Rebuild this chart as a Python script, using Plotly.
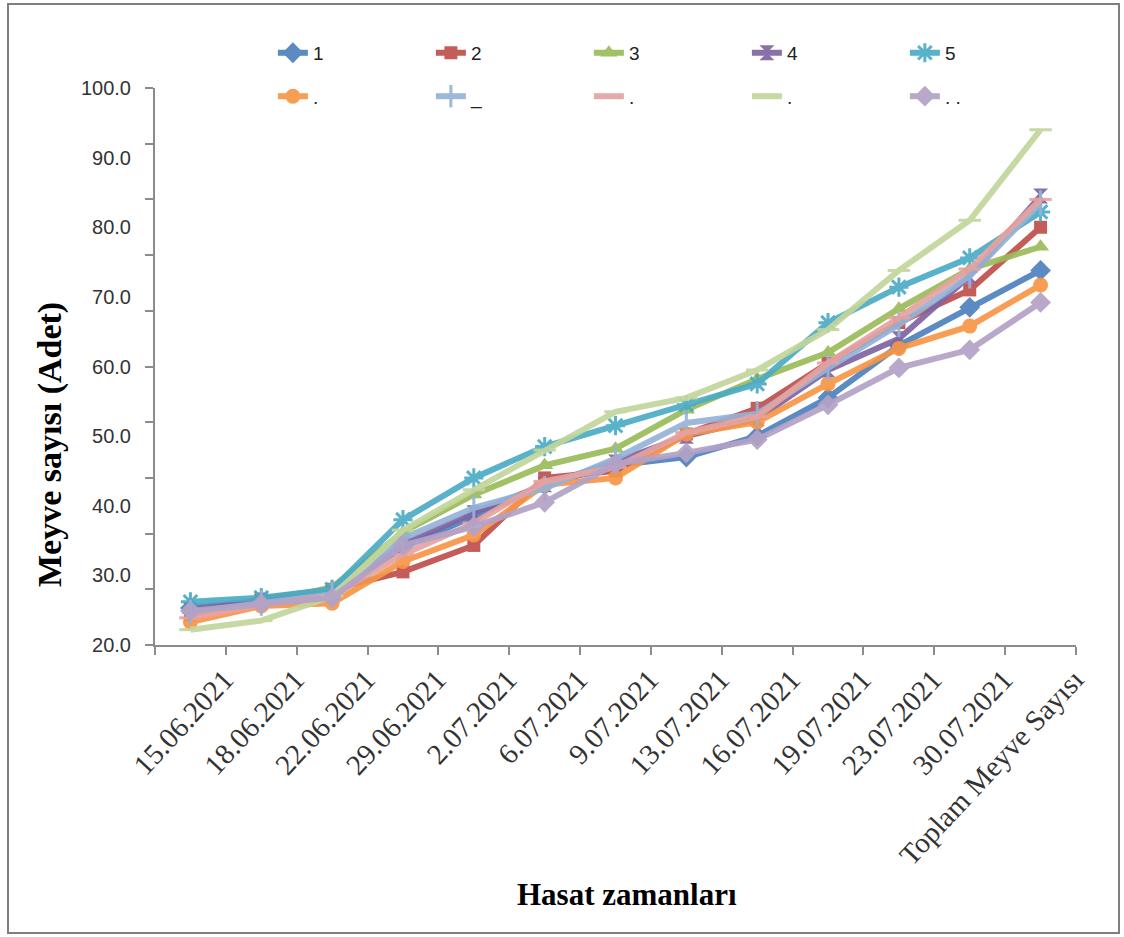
import plotly.graph_objects as go

categories = ["15.06.2021", "18.06.2021", "22.06.2021", "29.06.2021", "2.07.2021",
              "6.07.2021", "9.07.2021", "13.07.2021", "16.07.2021", "19.07.2021",
              "23.07.2021", "30.07.2021", "Toplam Meyve Sayısı"]

names = ["1", "2", "3", "4", "5", ".", "_", ".", ".", ". ."]

s1 = [25.3, 26.3, 27.5, 34.0, 38.5, 43.0, 45.8, 47.0, 50.0, 55.5, 63.0, 68.5, 73.8]
s2 = [24.3, 26.6, 28.0, 30.5, 34.3, 44.0, 45.0, 50.3, 54.0, 60.5, 66.3, 71.0, 80.0]
s3 = [25.0, 26.0, 28.3, 36.2, 41.6, 45.8, 48.2, 53.8, 58.2, 62.0, 68.3, 74.0, 77.2]
s4 = [25.0, 26.2, 27.5, 34.5, 39.0, 43.0, 46.3, 50.0, 52.5, 59.5, 64.0, 73.0, 84.5]
s5 = [26.2, 26.8, 28.0, 38.0, 44.0, 48.5, 51.5, 54.5, 57.5, 66.3, 71.4, 75.6, 82.2]
s6 = [23.3, 25.6, 26.0, 32.0, 35.8, 43.0, 44.0, 50.3, 52.0, 57.5, 62.6, 65.8, 71.7]
s7 = [24.7, 26.0, 27.3, 35.3, 39.7, 42.5, 46.8, 51.9, 53.2, 59.8, 66.0, 73.0, 83.5]
s8 = [23.9, 25.8, 27.0, 33.0, 37.5, 43.5, 45.5, 50.5, 52.8, 60.5, 67.0, 74.0, 84.0]
s9 = [22.2, 23.5, 27.0, 36.5, 42.3, 48.0, 53.5, 55.5, 59.5, 65.3, 73.8, 81.0, 94.0]
s10 = [24.9, 25.9, 26.8, 34.3, 37.0, 40.5, 46.0, 47.6, 49.5, 54.5, 59.8, 62.4, 69.2]
series = [s1, s2, s3, s4, s5, s6, s7, s8, s9, s10]

colors = ["#4F81BD", "#C0504D", "#9BBB59", "#8064A2", "#4BACC6",
          "#F79646", "#95B3D7", "#E6A3A1", "#C3D69B", "#B3A2C7"]
symbols = ["diamond", "square", "triangle-up", "hourglass", "asterisk-open",
           "circle", "line-ns-open", "line-ew-open", "line-ew-open", "diamond"]
msizes = [16, 13, 15, 15, 16, 15, 18, 16, 16, 16]

y_tick_vals = [20, 30, 40, 50, 60, 70, 80, 90, 100]
y_tick_text = ["20.0", "30.0", "40.0", "50.0", "60.0", "70.0", "80.0", "90.0", "100.0"]

fig = go.Figure()
for i, (vals, nm, col, sym, ms) in enumerate(zip(series, names, colors, symbols, msizes)):
    open_sym = sym.endswith("-open")
    fig.add_trace(go.Scatter(
        x=categories, y=vals, name=nm, mode="lines+markers",
        line=dict(color=col, width=6),
        marker=dict(symbol=sym, size=ms, color=col,
                    line=dict(color=col, width=3 if open_sym else 0)),
        opacity=0.92,
        legend="legend" if i < 5 else "legend2",
    ))

axis_col = "#8C8C8C"
leg_font = dict(family="Liberation Sans, Arial, sans-serif", size=19, color="#222")
fig.update_layout(
    width=1124, height=937,
    margin=dict(l=155, r=48, t=88, b=292),
    paper_bgcolor="white", plot_bgcolor="white",
    font=dict(family="Liberation Sans, Arial, sans-serif", color="#222"),
    showlegend=True,
    legend=dict(orientation="h", x=0.128, y=1.063, xanchor="left", yanchor="middle",
                entrywidth=113, entrywidthmode="pixels", font=leg_font,
                bgcolor="rgba(0,0,0,0)"),
    legend2=dict(orientation="h", x=0.128, y=0.985, xanchor="left", yanchor="middle",
                 entrywidth=113, entrywidthmode="pixels", font=leg_font,
                 bgcolor="rgba(0,0,0,0)"),
    xaxis=dict(
        type="category", range=[-0.5, len(categories) - 0.5],
        showline=True, linecolor=axis_col, linewidth=2,
        ticks="outside", ticklen=8, tickcolor=axis_col, tickwidth=1.5,
        tickson="boundaries", tickangle=-47, ticklabelshift=34, ticklabelstandoff=4,
        tickfont=dict(family="Liberation Serif, Times New Roman, serif", size=29, color="#333"),
        showgrid=False, zeroline=False,
    ),
    yaxis=dict(
        range=[20, 100], showline=True, linecolor=axis_col, linewidth=2,
        tickmode="array", tickvals=y_tick_vals, ticktext=y_tick_text,
        ticks="", ticklabelstandoff=18,
        tickfont=dict(family="Liberation Sans, Arial, sans-serif", size=20, color="#333"),
        minor=dict(ticks="outside", tick0=20, dtick=8, ticklen=8, tickcolor=axis_col,
                   tickwidth=1.5, showgrid=False),
        showgrid=False, zeroline=False,
    ),
)

fig.add_annotation(text="<b>Hasat zamanları</b>", xref="paper", yref="paper",
                   x=(627 - 155) / 921, y=(645 - 894) / 557, xanchor="center", yanchor="middle",
                   showarrow=False,
                   font=dict(family="Liberation Serif, Times New Roman, serif", size=31, color="#000"))
fig.add_annotation(text="<b>Meyve sayısı (Adet)</b>", xref="paper", yref="paper",
                   x=(50 - 155) / 921, y=(645 - 445) / 557, xanchor="center", yanchor="middle",
                   textangle=-90, showarrow=False,
                   font=dict(family="Liberation Serif, Times New Roman, serif", size=34, color="#000"))

fig.add_shape(type="rect", xref="paper", yref="paper",
              x0=(8 - 155) / 921, x1=(1119 - 155) / 921,
              y0=(645 - 933) / 557, y1=(645 - 4) / 557,
              line=dict(color="#7F7F7F", width=2), fillcolor="rgba(0,0,0,0)", layer="below")

fig.write_html("out.html")
